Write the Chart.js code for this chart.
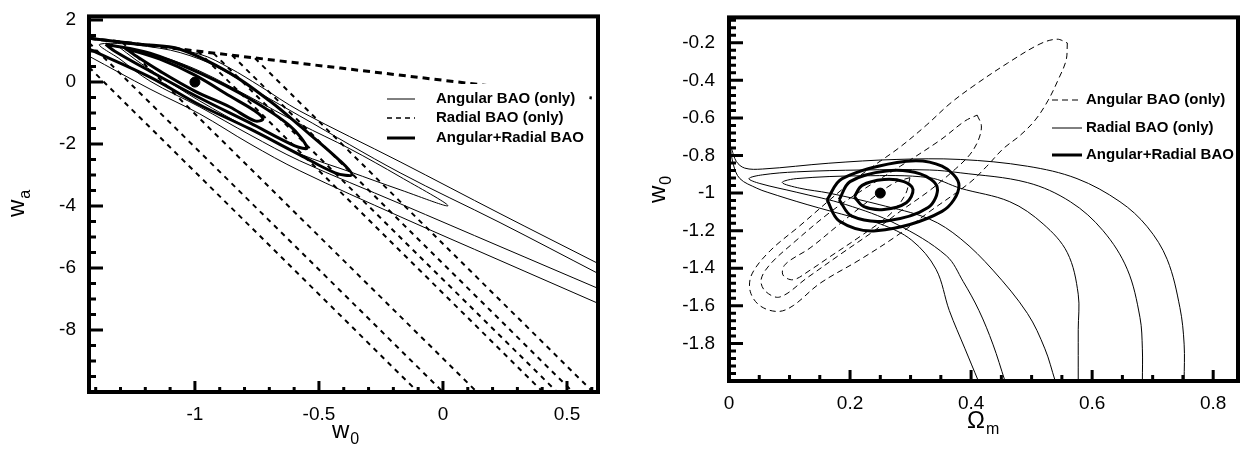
<!DOCTYPE html>
<html>
<head>
<meta charset="utf-8">
<script src="https://cdn.jsdelivr.net/npm/chart.js@4"></script>
<style>
body { margin: 0; background: #fff; width: 1251px; height: 451px; overflow: hidden; position: relative; }
.panel { position: absolute; top: 0; }
</style>
</head>
<body>
<div class="panel" style="left:0px"><canvas id="left" width="620" height="451"></canvas></div>
<div class="panel" style="left:631px"><canvas id="right" width="620" height="451"></canvas></div>
<script>
// tick labels
const leftXTicks = [-1, -0.5, 0, 0.5];
const leftYTicks = [2, 0, -2, -4, -6, -8];
const rightXTicks = [0, 0.2, 0.4, 0.6, 0.8];
const rightYTicks = [-0.2, -0.4, -0.6, -0.8, -1, -1.2, -1.4, -1.6, -1.8];
const legendLabels = ['Angular BAO (only)', 'Radial BAO (only)', 'Angular+Radial BAO'];
const leftXTitle = ['w', '0'];
const leftYTitle = ['w', 'a'];
const rightXTitle = ['\u03A9', 'm'];
const rightYTitle = ['w', '0'];

// left panel: w0 vs wa
const leftFiducial = [[-1, 0]];
const leftAngular1 = [[-1.310,1.158],[-1.141,0.836],[-0.980,0.354],[-0.778,-0.482],[-0.577,-1.350],[-0.375,-2.154],[-0.173,-3.055],[0.020,-3.987],[-0.173,-3.473],[-0.375,-2.894],[-0.577,-2.315],[-0.778,-1.511],[-0.980,-0.611],[-1.141,0.193],[-1.242,0.740],[-1.310,1.158]];
const leftAngular2 = [[0.625,-6.174],[0.230,-4.534],[-0.173,-2.926],[-0.577,-1.093],[-0.738,-0.354],[-0.859,0.257],[-0.980,0.740],[-1.141,1.093],[-1.383,1.222],[-1.302,0.740],[-1.181,0.032],[-0.980,-0.804],[-0.778,-1.704],[-0.577,-2.540],[-0.173,-3.923],[0.230,-5.305],[0.625,-6.656]];
const leftAngular3Up = [[0.625,-5.852],[0.230,-4.244],[-0.173,-2.572],[-0.577,-0.932],[-0.738,-0.129],[-0.859,0.450],[-0.980,0.900],[-1.181,1.190],[-1.427,1.383]];
const leftAngular3Low = [[-1.427,0.836],[-1.181,-0.225],[-0.980,-1.029],[-0.778,-1.994],[-0.577,-2.862],[-0.173,-4.341],[0.230,-5.756],[0.625,-7.138]];
const leftRadialA = [[-1.427,0.48],[-0.101,-10]];
const leftRadialB = [[-1.427,1.27],[0.0,-10]];
const leftRadialC = [[-1.293,1.29],[0.137,-10]];
const leftRadialD = [[-0.988,1.0],[0.403,-10]];
const leftRadialE = [[-0.925,0.93],[0.460,-10]];
const leftRadialF = [[-0.851,0.87],[0.524,-10]];
const leftRadialG = [[-0.758,0.77],[0.605,-10]];
const leftBoundary = [[-1.427,1.415],[0.60,-0.51]];
const leftCombined1 = [[-1.282,1.093],[-1.141,0.740],[-1.0,0.225],[-0.859,-0.450],[-0.758,-0.932],[-0.726,-1.190],[-0.758,-1.254],[-0.859,-0.804],[-1.0,-0.289],[-1.141,0.354],[-1.242,0.868],[-1.282,1.093]];
const leftCombined2 = [[-1.36,1.22],[-1.181,0.932],[-0.980,0.289],[-0.778,-0.547],[-0.617,-1.415],[-0.548,-2.122],[-0.597,-2.058],[-0.778,-1.318],[-0.980,-0.514],[-1.181,0.354],[-1.323,0.997],[-1.36,1.22]];
const leftCombined3 = [[-1.427,1.415],[-1.222,1.222],[-1.060,1.061],[-0.859,0.289],[-0.698,-0.611],[-0.577,-1.415],[-0.415,-2.540],[-0.367,-2.990],[-0.435,-2.926],[-0.577,-2.347],[-0.778,-1.511],[-0.980,-0.740],[-1.181,0.161],[-1.427,1.061]];

// right panel: Omega_m vs w0
const rightFiducial = [[0.25, -1]];
const rightAngular1 = [[0.299,-0.918],[0.291,-1.010],[0.266,-1.113],[0.217,-1.230],[0.167,-1.338],[0.134,-1.410],[0.106,-1.461],[0.089,-1.435],[0.093,-1.379],[0.134,-1.292],[0.183,-1.164],[0.233,-1.036],[0.274,-0.944],[0.299,-0.918]];
const rightAngular2 = [[0.410,-0.585],[0.417,-0.642],[0.412,-0.718],[0.398,-0.795],[0.374,-0.872],[0.332,-0.985],[0.283,-1.097],[0.238,-1.205],[0.183,-1.328],[0.129,-1.451],[0.084,-1.553],[0.060,-1.522],[0.053,-1.461],[0.068,-1.379],[0.106,-1.266],[0.167,-1.102],[0.220,-0.985],[0.283,-0.857],[0.349,-0.718],[0.390,-0.616],[0.410,-0.585]];
const rightAngular3 = [[0.559,-0.201],[0.557,-0.293],[0.544,-0.396],[0.527,-0.508],[0.506,-0.611],[0.481,-0.693],[0.453,-0.764],[0.426,-0.857],[0.398,-0.944],[0.332,-1.097],[0.276,-1.230],[0.217,-1.353],[0.150,-1.481],[0.106,-1.599],[0.081,-1.630],[0.051,-1.599],[0.035,-1.522],[0.038,-1.430],[0.068,-1.307],[0.117,-1.174],[0.195,-0.959],[0.238,-0.857],[0.283,-0.754],[0.327,-0.636],[0.365,-0.524],[0.403,-0.432],[0.460,-0.309],[0.514,-0.206],[0.542,-0.181],[0.559,-0.201]];
const rightRadial1 = [[0.539,-2.0],[0.522,-1.829],[0.493,-1.640],[0.436,-1.410],[0.382,-1.241],[0.331,-1.138],[0.248,-1.061],[0.165,-1.0],[0.117,-0.974],[0.088,-0.944],[0.111,-0.923],[0.220,-0.908],[0.331,-0.918],[0.382,-0.974],[0.464,-1.046],[0.519,-1.164],[0.559,-1.317],[0.577,-1.538],[0.577,-1.727],[0.577,-2.0]];
const rightRadial2 = [[0.456,-2.0],[0.436,-1.804],[0.413,-1.625],[0.387,-1.471],[0.359,-1.333],[0.276,-1.164],[0.193,-1.061],[0.111,-0.995],[0.051,-0.949],[0.033,-0.923],[0.055,-0.903],[0.111,-0.887],[0.220,-0.877],[0.331,-0.877],[0.382,-0.892],[0.493,-0.944],[0.564,-1.046],[0.618,-1.200],[0.658,-1.405],[0.679,-1.661],[0.683,-1.829],[0.683,-2.0]];
const rightRadial3 = [[0.412,-2.0],[0.390,-1.829],[0.364,-1.625],[0.342,-1.405],[0.302,-1.251],[0.250,-1.164],[0.205,-1.128],[0.129,-1.061],[0.063,-0.995],[0.046,-0.974],[0.018,-0.923],[0.007,-0.846],[0.003,-0.754],[0.012,-0.831],[0.026,-0.867],[0.055,-0.872],[0.165,-0.841],[0.276,-0.821],[0.382,-0.821],[0.493,-0.857],[0.575,-0.923],[0.646,-1.046],[0.691,-1.179],[0.724,-1.353],[0.745,-1.609],[0.752,-1.804],[0.752,-2.0]];
const rightCombined1 = [[0.207,-1.020],[0.220,-0.959],[0.256,-0.928],[0.289,-0.939],[0.304,-0.980],[0.293,-1.051],[0.256,-1.087],[0.223,-1.072],[0.207,-1.020]];
const rightCombined2 = [[0.182,-1.036],[0.200,-0.939],[0.260,-0.882],[0.316,-0.898],[0.344,-0.969],[0.329,-1.077],[0.260,-1.148],[0.203,-1.123],[0.182,-1.036]];
const rightCombined3 = [[0.162,-1.036],[0.187,-0.923],[0.293,-0.831],[0.352,-0.857],[0.380,-0.959],[0.352,-1.097],[0.243,-1.200],[0.182,-1.148],[0.162,-1.036]];

const FONT = '"Liberation Sans", Arial, sans-serif';
Chart.defaults.font.family = FONT;
Chart.defaults.color = '#000';

function pts(a) { return a.map(p => ({x: p[0], y: p[1]})); }
function curve(a, width, dash) {
    return { data: pts(a), showLine: true, borderColor: '#000', borderWidth: width,
        borderDash: dash || [], pointRadius: 0, tension: 0.35, fill: false };
}
function dot(a) {
    return { data: pts(a), showLine: false, pointRadius: 5, backgroundColor: '#000', borderColor: '#000' };
}

const framePlugin = {
    id: 'frame',
    afterDraw(chart, args, o) {
        const ctx = chart.ctx, a = chart.chartArea, xs = chart.scales.x, ys = chart.scales.y;
        ctx.save();
        ctx.strokeStyle = '#000';
        ctx.lineWidth = 4;
        ctx.strokeRect(a.left, a.top, a.right - a.left, a.bottom - a.top);
        ctx.lineWidth = 3;
        ctx.beginPath();
        for (let i = Math.ceil(xs.min / o.xMinor - 1e-6); i * o.xMinor <= xs.max + 1e-9; i++) {
            const v = i * o.xMinor;
            const major = o.xMajor.some(m => Math.abs(m - v) < 1e-6);
            const p = xs.getPixelForValue(v);
            ctx.moveTo(p, a.bottom);
            ctx.lineTo(p, a.bottom - (major ? o.xLen[0] : o.xLen[1]));
        }
        for (let i = Math.ceil(ys.min / o.yMinor - 1e-6); i * o.yMinor <= ys.max + 1e-9; i++) {
            const v = i * o.yMinor;
            const major = o.yMajor.some(m => Math.abs(m - v) < 1e-6);
            const p = ys.getPixelForValue(v);
            ctx.moveTo(a.left, p);
            ctx.lineTo(a.left + (major ? o.yLen[0] : o.yLen[1]), p);
        }
        ctx.stroke();
        ctx.restore();
    }
};

const legendPlugin = {
    id: 'boxLegend',
    afterDatasetsDraw(chart, args, o) {
        const ctx = chart.ctx;
        ctx.save();
        if (o.box) {
            ctx.fillStyle = '#fff';
            ctx.fillRect(o.box[0], o.box[1], o.box[2], o.box[3]);
        }
        o.rows.forEach((r, i) => {
            ctx.strokeStyle = '#000';
            ctx.lineWidth = r.width;
            ctx.setLineDash(r.dash);
            ctx.beginPath();
            ctx.moveTo(o.x0, r.y);
            ctx.lineTo(o.x1, r.y);
            ctx.stroke();
            ctx.setLineDash([]);
            ctx.fillStyle = '#000';
            ctx.font = 'bold 15px ' + FONT;
            ctx.textBaseline = 'middle';
            ctx.textAlign = 'left';
            ctx.fillText(legendLabels[i], o.tx, r.y);
        });
        ctx.restore();
    }
};

const titlePlugin = {
    id: 'subTitles',
    afterDraw(chart, args, o) {
        const ctx = chart.ctx;
        o.items.forEach(t => {
            ctx.save();
            ctx.translate(t.x, t.y);
            if (t.rot) ctx.rotate(t.rot);
            ctx.fillStyle = '#000';
            ctx.textBaseline = 'alphabetic';
            ctx.textAlign = 'left';
            ctx.font = '24px ' + FONT;
            ctx.fillText(t.text[0], 0, 0);
            const w = ctx.measureText(t.text[0]).width;
            ctx.font = '16px ' + FONT;
            ctx.fillText(t.text[1], w + 1, 6);
            ctx.restore();
        });
    }
};

function axis(min, max, ticks, fit, pad) {
    return {
        type: 'linear', min: min, max: max,
        grid: { display: false }, border: { display: false },
        ticks: { font: { size: 19 }, color: '#000', padding: pad, autoSkip: false, maxRotation: 0,
            includeBounds: false, callback: v => String(v) },
        afterBuildTicks: s => { s.ticks = ticks.map(v => ({ value: v })); },
        afterFit: fit
    };
}

new Chart(document.getElementById('left'), {
    type: 'scatter',
    data: {
        datasets: [
            curve(leftAngular1, 1), curve(leftAngular2, 1), curve(leftAngular3Up, 1), curve(leftAngular3Low, 1),
            curve(leftRadialA, 2, [5, 5]), curve(leftRadialB, 2, [5, 5]), curve(leftRadialC, 2, [5, 5]),
            curve(leftRadialD, 2, [5, 5]), curve(leftRadialE, 2, [5, 5]), curve(leftRadialF, 2, [5, 5]),
            curve(leftRadialG, 2, [5, 5]), curve(leftBoundary, 3, [7, 5]),
            curve(leftCombined1, 3), curve(leftCombined2, 3), curve(leftCombined3, 3),
            dot(leftFiducial)
        ]
    },
    options: {
        responsive: false, animation: false,
        layout: { padding: { top: 15, right: 22, left: 0, bottom: 0 } },
        scales: {
            x: axis(-1.427, 0.625, leftXTicks, s => { s.height = 59; }, 3),
            y: axis(-10, 2.12, leftYTicks, s => { s.width = 89; }, 5)
        },
        plugins: {
            legend: { display: false }, tooltip: { enabled: false },
            boxLegend: { box: [383, 84, 202, 64], x0: 387, x1: 415, tx: 436,
                rows: [{ y: 99, width: 1, dash: [] }, { y: 118, width: 1.5, dash: [5, 4] }, { y: 138, width: 3, dash: [] }] },
            frame: { xMajor: leftXTicks, yMajor: leftYTicks, xMinor: 0.1, yMinor: 0.5, xLen: [11, 5], yLen: [14, 7] },
            subTitles: { items: [
                { text: leftXTitle, x: 332, y: 438 },
                { text: leftYTitle, x: 24, y: 217, rot: -Math.PI / 2 }
            ] }
        }
    },
    plugins: [legendPlugin, framePlugin, titlePlugin]
});

new Chart(document.getElementById('right'), {
    type: 'scatter',
    data: {
        datasets: [
            curve(rightAngular1, 1, [6, 4]), curve(rightAngular2, 1, [6, 4]), curve(rightAngular3, 1, [6, 4]),
            curve(rightRadial1, 1), curve(rightRadial2, 1), curve(rightRadial3, 1),
            curve(rightCombined1, 3), curve(rightCombined2, 3), curve(rightCombined3, 3),
            dot(rightFiducial)
        ]
    },
    options: {
        responsive: false, animation: false,
        layout: { padding: { top: 5, right: 13, left: 0, bottom: 0 } },
        scales: {
            x: axis(0, 0.841, rightXTicks, s => { s.height = 70; }, 3),
            y: axis(-2, -0.065, rightYTicks, s => { s.width = 98; }, 6)
        },
        plugins: {
            legend: { display: false }, tooltip: { enabled: false },
            boxLegend: { box: null, x0: 421, x1: 451, tx: 455,
                rows: [{ y: 100, width: 1, dash: [6, 4] }, { y: 128, width: 1, dash: [] }, { y: 155, width: 3, dash: [] }] },
            frame: { xMajor: rightXTicks, yMajor: rightYTicks, xMinor: 0.05, yMinor: 0.04, xLen: [11, 6], yLen: [14, 7] },
            subTitles: { items: [
                { text: rightXTitle, x: 336, y: 428 },
                { text: rightYTitle, x: 34, y: 203, rot: -Math.PI / 2 }
            ] }
        }
    },
    plugins: [legendPlugin, framePlugin, titlePlugin]
});
</script>
</body>
</html>
